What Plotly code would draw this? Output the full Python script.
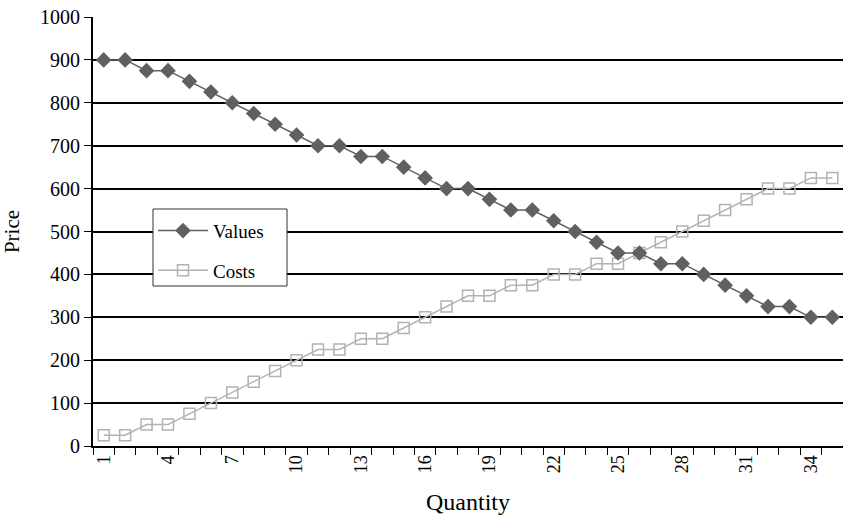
import plotly.graph_objects as go

quantity = list(range(1, 36))
values = [900, 900, 875, 875, 850, 825, 800, 775, 750, 725, 700, 700, 675, 675, 650,
          625, 600, 600, 575, 550, 550, 525, 500, 475, 450, 450, 425, 425, 400, 375,
          350, 325, 325, 300, 300]
costs = [25, 25, 50, 50, 75, 100, 125, 150, 175, 200, 225, 225, 250, 250, 275,
         300, 325, 350, 350, 375, 375, 400, 400, 425, 425, 450, 475, 500, 525, 550,
         575, 600, 600, 625, 625]
x_ticks = [1, 4, 7, 10, 13, 16, 19, 22, 25, 28, 31, 34]
y_ticks = [0, 100, 200, 300, 400, 500, 600, 700, 800, 900, 1000]

FONT = "Liberation Serif"

fig = go.Figure()
fig.add_trace(go.Scatter(
    x=quantity, y=costs, name="Costs", mode="lines+markers", legendgroup="c", legendrank=2,
    line=dict(color="#b2b2b2", width=1.5),
    marker=dict(symbol="square-open", size=11, color="#b2b2b2", line=dict(width=1.5, color="#b2b2b2")),
))
fig.add_trace(go.Scatter(
    x=quantity, y=values, name="Values", mode="lines+markers", legendgroup="v", legendrank=1,
    line=dict(color="#606060", width=1.5),
    marker=dict(symbol="diamond", size=12, color="#606060"),
))

# legend frame (drawn as a box behind the legend entries)
fig.add_shape(type="rect", xref="paper", yref="paper",
              x0=60 / 750, x1=194 / 750, y0=160 / 429, y1=237 / 429,
              fillcolor="white", line=dict(color="#303030", width=1), layer="above")

fig.update_layout(
    width=843, height=515,
    margin=dict(l=93, r=0, t=17, b=69, autoexpand=False),
    paper_bgcolor="white", plot_bgcolor="white",
    font=dict(family=FONT, size=18, color="black"),
    showlegend=True,
    legend=dict(
        x=0.08, y=0.546, xanchor="left", yanchor="top",
        bgcolor="rgba(0,0,0,0)", borderwidth=0,
        font=dict(family=FONT, size=19),
        traceorder="grouped", tracegroupgap=12, itemwidth=50,
    ),
    xaxis=dict(
        range=[0.5, 35.5], automargin=False,
        tickmode="array", tickvals=x_ticks, ticktext=[str(v) for v in x_ticks],
        tickangle=-90, ticks="", showgrid=False, zeroline=False,
        showline=True, linecolor="black", linewidth=2,
        tickfont=dict(family=FONT, size=18),
        minor=dict(tickvals=[i + 0.5 for i in range(0, 36)], ticks="outside",
                   ticklen=7, tickcolor="black", tickwidth=1, showgrid=False),
        title=dict(text="Quantity", font=dict(family=FONT, size=24), standoff=21),
    ),
    yaxis=dict(
        range=[0, 1000], tickmode="array", tickvals=y_ticks, automargin=False,
        ticks="outside", ticklen=7, tickcolor="black", tickwidth=1,
        showgrid=True, gridcolor="black", gridwidth=1.5, zeroline=False,
        showline=True, linecolor="black", linewidth=2,
        tickfont=dict(family=FONT, size=20),
        title=dict(text="Price", font=dict(family=FONT, size=21)),
    ),
)

fig.write_html("out.html", config={"displayModeBar": False},
               post_script="document.body.style.margin='0px';")
